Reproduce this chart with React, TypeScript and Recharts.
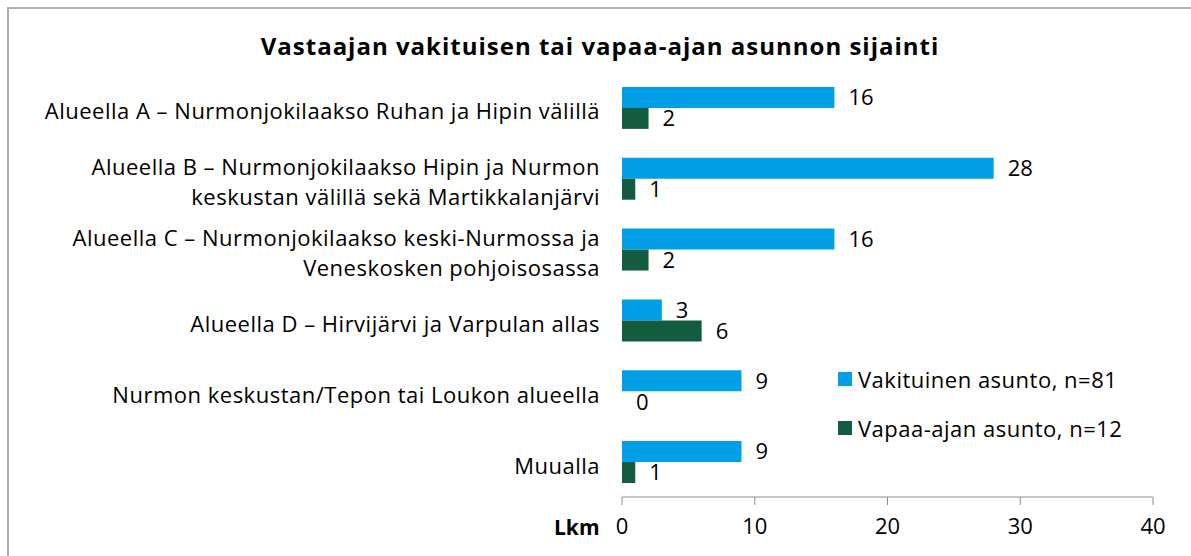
import React from "react";
import {
  BarChart,
  Bar,
  XAxis,
  YAxis,
  Legend,
  LabelList,
} from "recharts";

const categories = [
  "Alueella A – Nurmonjokilaakso Ruhan ja Hipin välillä",
  "Alueella B – Nurmonjokilaakso Hipin ja Nurmon\nkeskustan välillä sekä Martikkalanjärvi",
  "Alueella C – Nurmonjokilaakso keski-Nurmossa ja\nVeneskosken pohjoisosassa",
  "Alueella D – Hirvijärvi ja Varpulan allas",
  "Nurmon keskustan/Tepon tai Loukon alueella",
  "Muualla",
];
const vakituinen = [16, 28, 16, 3, 9, 9];
const vapaaAjan = [2, 1, 2, 6, 0, 1];
const xTicks = [0, 10, 20, 30, 40];
const boundaryTicks = [0, 1, 2, 3, 4, 5, 6];

const seriesNames = ["Vakituinen asunto, n=81", "Vapaa-ajan asunto, n=12"];
const BLUE = "#009FE6";
const GREEN = "#145C40";
const AXIS = "#8C8C8C";
const FONT = "'Open Sans', Lato, sans-serif";
const FS = 22;
const LS = 0.5;

const data = categories.map((name, i) => ({
  name,
  vakituinen: vakituinen[i],
  vapaa: vapaaAjan[i],
}));

function CategoryTick(props: any) {
  const { x, y, payload } = props;
  const lines = String(payload.value).split("\n");
  const lineH = 30;
  const start = y + 3 - ((lines.length - 1) * lineH) / 2;
  return (
    <text
      x={x}
      y={start}
      textAnchor="end"
      fill="#000"
      fontSize={FS}
      fontFamily={FONT}
      letterSpacing={LS}
      dominantBaseline="central"
    >
      {lines.map((l: string, i: number) => (
        <tspan key={i} x={x} y={start + i * lineH}>
          {l}
        </tspan>
      ))}
    </text>
  );
}

function LegendContent() {
  const colors = [BLUE, GREEN];
  return (
    <div
      style={{
        fontFamily: FONT,
        fontSize: FS,
        letterSpacing: LS,
        color: "#000",
      }}
    >
      {seriesNames.map((n, i) => (
        <div
          key={n}
          style={{ display: "flex", alignItems: "center", height: 49 }}
        >
          <span
            style={{
              width: 14,
              height: 14,
              background: colors[i],
              display: "inline-block",
              marginRight: 6,
            }}
          />
          <span>{n}</span>
        </div>
      ))}
    </div>
  );
}

export default function App() {
  return (
    <div
      style={{
        position: "absolute",
        left: 0,
        top: 0,
        width: 1191,
        height: 556,
        overflow: "hidden",
        background: "#fff",
      }}
    >
      <div
        style={{
          position: "absolute",
          left: 7,
          top: 7,
          width: 1300,
          height: 700,
          border: "2px solid #ADADAD",
        }}
      />
      <div
        style={{
          position: "absolute",
          left: 0,
          width: 1200,
          top: 29,
          textAlign: "center",
          fontFamily: FONT,
          fontWeight: 700,
          fontSize: 24,
          letterSpacing: 1,
        }}
      >
        Vastaajan vakituisen tai vapaa-ajan asunnon sijainti
      </div>
      <div
        style={{
          position: "absolute",
          left: 554,
          top: 513,
          fontFamily: FONT,
          fontWeight: 700,
          fontSize: 21,
        }}
      >
        Lkm
      </div>
      <div style={{ position: "absolute", left: 0, top: 0 }}>
        <BarChart
          width={1191}
          height={556}
          data={data}
          layout="vertical"
          margin={{ top: 72, right: 38, bottom: 0, left: 0 }}
          barCategoryGap="21%"
          barGap={0}
        >
          <XAxis
            type="number"
            domain={[0, 40]}
            ticks={xTicks}
            tickSize={8}
            tickMargin={13}
            stroke={AXIS}
            tick={{ fill: "#000", fontSize: FS, fontFamily: FONT }}
            height={59}
          />
          <YAxis
            yAxisId="bounds"
            type="number"
            domain={[0, 6]}
            ticks={boundaryTicks}
            tick={false}
            tickSize={10}
            stroke={AXIS}
            width={0}
          />
          <YAxis
            type="category"
            dataKey="name"
            width={622}
            axisLine={false}
            tickLine={false}
            tickSize={0}
            tickMargin={22}
            interval={0}
            tick={<CategoryTick />}
          />
          <Legend
            layout="vertical"
            align="center"
            verticalAlign="middle"
            content={<LegendContent />}
            wrapperStyle={{ left: 838, top: 354, width: 340 }}
          />
          <Bar
            dataKey="vakituinen"
            name={seriesNames[0]}
            fill={BLUE}
            isAnimationActive={false}
          >
            <LabelList
              dataKey="vakituinen"
              position="right"
              offset={14}
              fill="#000"
              fontSize={FS}
              fontFamily={FONT}
            />
          </Bar>
          <Bar
            dataKey="vapaa"
            name={seriesNames[1]}
            fill={GREEN}
            minPointSize={0.01}
            isAnimationActive={false}
          >
            <LabelList
              dataKey="vapaa"
              position="right"
              offset={14}
              fill="#000"
              fontSize={FS}
              fontFamily={FONT}
            />
          </Bar>
        </BarChart>
      </div>
    </div>
  );
}
